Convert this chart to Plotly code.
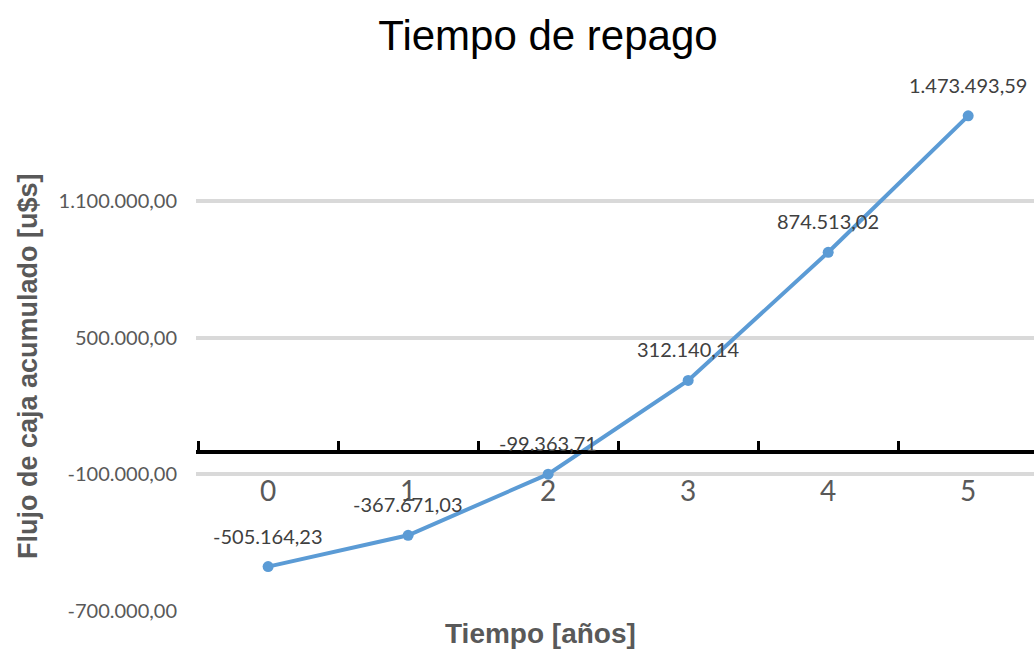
import plotly.graph_objects as go

# Data
years = ["0", "1", "2", "3", "4", "5"]
flujo = [-505164.23, -367671.03, -99363.71, 312140.14, 874513.02, 1473493.59]
y_tickvals = [-700000, -100000, 500000, 1100000]
y_ticktext = ["-700.000,00", "-100.000,00", "500.000,00", "1.100.000,00"]

def fmt(v):
    s = f"{v:,.2f}"
    return s.replace(",", "X").replace(".", ",").replace("X", ".")

labels = [fmt(v) for v in flujo]

W, H = 1034, 649
L, R, T, B = 196, 0, 87, 38
y_min, y_max = -700000, 1600000
zero_pos = (0 - y_min) / (y_max - y_min)

fig = go.Figure()
fig.add_trace(go.Scatter(
    x=years, y=flujo, mode="lines+markers",
    line=dict(color="#5B9BD5", width=4),
    marker=dict(color="#5B9BD5", size=11),
    hoverinfo="skip", showlegend=False,
))

for x, y, t in zip(years, flujo, labels):
    fig.add_annotation(x=x, y=y, text=t, showarrow=False, yshift=31,
                       font=dict(family="Lato, Liberation Sans", size=20, color="#404040"))

fig.update_layout(
    width=W, height=H,
    margin=dict(l=L, r=R, t=T, b=B),
    paper_bgcolor="white", plot_bgcolor="white",
    title=dict(text="Tiempo de repago", x=548 / W, xanchor="center",
               y=1 - 35 / H, yanchor="middle", yref="container",
               font=dict(family="Liberation Sans, Arial", size=42, color="#000000")),
    xaxis=dict(type="category", range=[-0.515, 5.47],
               anchor="free", position=zero_pos,
               showline=True, linecolor="black", linewidth=4,
               ticks="inside", tickson="boundaries", ticklen=9, tickwidth=3, tickcolor="black",
               ticklabelstandoff=14,
               tickfont=dict(family="Lato, Liberation Sans", size=28, color="#595959"),
               showgrid=False, zeroline=False),
    yaxis=dict(range=[y_min, y_max], tickvals=y_tickvals, ticktext=y_ticktext,
               showgrid=True, gridcolor="#D9D9D9", gridwidth=4,
               zeroline=False, showline=False, ticks="",
               ticklabelstandoff=18,
               tickfont=dict(family="Lato, Liberation Sans", size=20, color="#595959")),
)

pw, ph = W - L - R, H - T - B
fig.add_annotation(text="<b>Flujo de caja acumulado [u$s]</b>", xref="paper", yref="paper",
                   x=(28 - L) / pw, y=(H - B - 366) / ph,
                   textangle=-90, showarrow=False, xanchor="center", yanchor="middle",
                   font=dict(family="Liberation Sans, Arial", size=27, color="#595959"))
fig.add_annotation(text="<b>Tiempo [años]</b>", xref="paper", yref="paper",
                   x=(540 - L) / pw, y=-(633 - (H - B)) / ph,
                   showarrow=False, xanchor="center", yanchor="middle",
                   font=dict(family="Liberation Sans, Arial", size=28, color="#595959"))

fig.write_html("out.html")
